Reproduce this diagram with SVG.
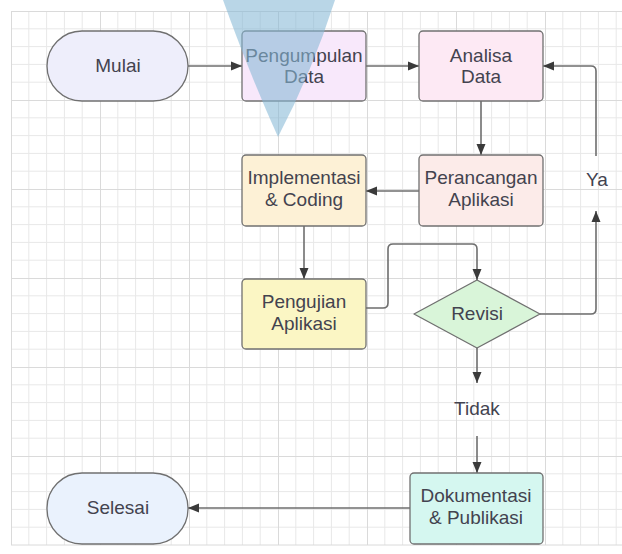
<svg xmlns="http://www.w3.org/2000/svg" width="622" height="554" viewBox="0 0 622 554">
  <defs>
    <pattern id="grid" patternUnits="userSpaceOnUse" x="11" y="11" width="89" height="89">
      <path d="M17.8,0V89M35.6,0V89M53.4,0V89M71.2,0V89M0,17.8H89M0,35.6H89M0,53.4H89M0,71.2H89" stroke="#e8e8e8" stroke-width="1" fill="none"/>
      <path d="M0.5,0V89M0,0.5H89" stroke="#dadada" stroke-width="1" fill="none"/>
    </pattern>
    <marker id="arr" markerUnits="userSpaceOnUse" markerWidth="12" markerHeight="10" refX="11" refY="5" orient="auto">
      <path d="M0,0.5 L11,5 L0,9.5 Z" fill="#3a3a3a"/>
    </marker>
    <style>
      .node { stroke: #707070; stroke-width: 1.3; }
      .lbl { font-family: "Liberation Sans", Arial, sans-serif; font-size: 19px; fill: #43434f; text-anchor: middle; }
      .conn { fill: none; stroke: #6e6e6e; stroke-width: 1.6; stroke-linejoin: round; }
    </style>
  </defs>

  <rect x="0" y="0" width="622" height="554" fill="#ffffff"/>
  <rect x="11" y="11" width="611" height="534" fill="url(#grid)"/>
  <line x1="11" y1="545" x2="622" y2="545" stroke="#dadada" stroke-width="1"/>

  <g id="connectors">
    <path class="conn" d="M188,66 H242" marker-end="url(#arr)"/>
    <path class="conn" d="M366,66 H419" marker-end="url(#arr)"/>
    <path class="conn" d="M481,101 V155" marker-end="url(#arr)"/>
    <path class="conn" d="M419,191 H366" marker-end="url(#arr)"/>
    <path class="conn" d="M304,226 V279" marker-end="url(#arr)"/>
    <path class="conn" d="M366,308 H383 Q388,308 388,303 V249 Q388,244 393,244 H472 Q477,244 477,249 V280" marker-end="url(#arr)"/>
    <path class="conn" d="M540,314 H591 Q596,314 596,309 V211" marker-end="url(#arr)"/>
    <path class="conn" d="M596,156 V71 Q596,66 591,66 H543" marker-end="url(#arr)"/>
    <path class="conn" d="M477,348 V383" marker-end="url(#arr)"/>
    <path class="conn" d="M477,436 V473" marker-end="url(#arr)"/>
    <path class="conn" d="M410,508 H188" marker-end="url(#arr)"/>
    <text class="lbl" x="597" y="186">Ya</text>
    <text class="lbl" x="477" y="415">Tidak</text>
  </g>

  <g id="mulai">
    <rect class="node" x="47" y="31" width="141" height="70" rx="35" ry="35" fill="#eeeefb"/>
    <text class="lbl" x="118" y="72">Mulai</text>
  </g>

  <g id="pengumpulan">
    <rect class="node" x="242" y="31" width="124" height="70" rx="4" fill="#f8e8fb"/>
    <text class="lbl" x="304" y="62">Pengumpulan</text>
    <text class="lbl" x="304" y="83">Data</text>
  </g>

  <g id="analisa">
    <rect class="node" x="419" y="31" width="124" height="70" rx="4" fill="#fde9f4"/>
    <text class="lbl" x="481" y="62">Analisa</text>
    <text class="lbl" x="481" y="83">Data</text>
  </g>

  <g id="perancangan">
    <rect class="node" x="419" y="155" width="124" height="71" rx="4" fill="#fcebe9"/>
    <text class="lbl" x="481" y="184">Perancangan</text>
    <text class="lbl" x="481" y="206">Aplikasi</text>
  </g>

  <g id="implementasi">
    <rect class="node" x="242" y="155" width="124" height="71" rx="4" fill="#fdf1d6"/>
    <text class="lbl" x="304" y="184">Implementasi</text>
    <text class="lbl" x="304" y="206">&amp; Coding</text>
  </g>

  <g id="pengujian">
    <rect class="node" x="242" y="279" width="124" height="70" rx="4" fill="#fbf6c4"/>
    <text class="lbl" x="304" y="308">Pengujian</text>
    <text class="lbl" x="304" y="330">Aplikasi</text>
  </g>

  <g id="revisi">
    <path class="node" d="M477,280 L540,314 L477,348 L414,314 Z" fill="#d9f5d9" stroke-linejoin="round"/>
    <text class="lbl" x="477" y="320">Revisi</text>
  </g>

  <g id="dokumentasi">
    <rect class="node" x="410" y="473" width="133" height="71" rx="4" fill="#d5f7f0"/>
    <text class="lbl" x="476" y="502">Dokumentasi</text>
    <text class="lbl" x="476" y="524">&amp; Publikasi</text>
  </g>

  <g id="selesai">
    <rect class="node" x="47" y="473" width="141" height="71" rx="35" ry="35" fill="#eaf2fd"/>
    <text class="lbl" x="118" y="514">Selesai</text>
  </g>

  <path id="watermark" d="M223,0 Q250,75 278,137 Q312,72 335,0 Z" fill="#86b8d6" fill-opacity="0.58"/>
</svg>
